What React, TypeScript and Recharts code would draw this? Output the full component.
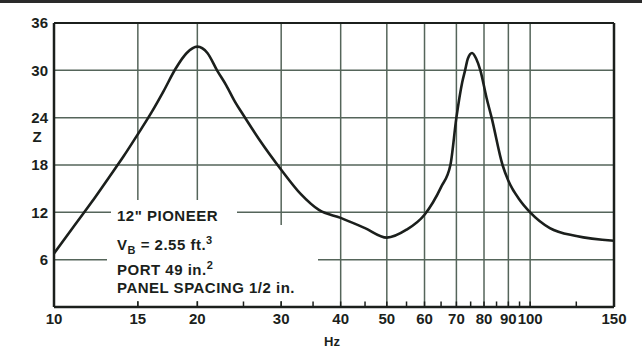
import React from 'react';
import { LineChart, Line, XAxis, YAxis, CartesianGrid, ReferenceLine, Label } from 'recharts';

const frequencies = [10, 11, 12, 13, 14, 15, 16, 17, 18, 19, 20, 21, 22, 23, 24, 25, 27, 30, 33, 36, 40, 45, 50, 55, 60, 65, 68, 70, 72, 73, 74, 75.5, 77, 78.6, 81, 83, 87.5, 90, 95, 100, 110, 125, 150];
const impedance = [6.8, 10.2, 13.3, 16.3, 19.1, 21.9, 24.6, 27.4, 30.2, 32.2, 33, 32.2, 30, 28.1, 26, 24.3, 21.2, 17.4, 14.3, 12.3, 11.3, 10, 8.8, 9.8, 11.7, 15.2, 18, 24, 28.5, 30, 31.5, 32.2, 31.5, 30, 26.5, 24, 18, 16, 13.6, 12, 10, 9, 8.4];
const xTicks = [10, 15, 20, 30, 40, 50, 60, 70, 80, 90, 100, 150];
const yTicks = [0, 6, 12, 18, 24, 30, 36];
const innerTicks = [15, 20, 25, 30, 35, 40, 45, 50, 55, 60, 65, 70, 75, 80, 85, 90, 95, 100, 125];

const data = frequencies.map((f, i) => ({ f, z: impedance[i] }));

const FONT = '"Liberation Sans", Arial, sans-serif';
const INK = '#1b1f1c';
const GRID = '#55655a';

const tickStyle = { fontFamily: FONT, fontSize: 15, fontWeight: 700, fill: INK };

const lineStyle: React.CSSProperties = {
  position: 'absolute',
  left: 117,
  fontFamily: FONT,
  fontSize: 15,
  fontWeight: 700,
  color: INK,
  letterSpacing: 0.5,
  lineHeight: '18px',
  whiteSpace: 'nowrap',
};

export default function App() {
  return (
    <div style={{ position: 'absolute', left: 0, top: 0, width: 642, height: 348, background: '#fff', overflow: 'hidden' }}>
      <div style={{ position: 'absolute', left: 0, top: 0, width: 642, height: 3, background: '#2a2a2a' }} />
      <LineChart width={642} height={348} data={data} margin={{ top: 23, right: 28, bottom: 0, left: 0 }}>
        <CartesianGrid stroke={GRID} strokeWidth={1.5} horizontalValues={yTicks} verticalValues={xTicks} />
        <XAxis
          dataKey="f"
          type="number"
          scale="log"
          domain={[10, 150]}
          ticks={xTicks}
          allowDataOverflow
          height={41}
          tickLine={false}
          tickSize={4}
          tickMargin={2}
          axisLine={{ stroke: INK, strokeWidth: 2.5 }}
          tick={tickStyle}
          interval={0}
        >
          <Label
            content={({ viewBox }: any) => (
              <text x={viewBox.x + viewBox.width / 2 - 2} y={viewBox.y + 39} textAnchor="middle" style={{ fontFamily: FONT, fontSize: 13, fontWeight: 700, fill: INK }}>
                Hz
              </text>
            )}
          />
        </XAxis>
        <YAxis
          type="number"
          domain={[0, 36]}
          ticks={[6, 12, 18, 24, 30, 36]}
          width={54}
          tickLine={false}
          tickSize={4}
          tickMargin={2}
          axisLine={{ stroke: INK, strokeWidth: 2.5 }}
          tick={tickStyle}
          interval={0}
        >
          <Label
            content={({ viewBox }: any) => (
              <text x={viewBox.x + 37} y={viewBox.y + 119} textAnchor="middle" style={{ fontFamily: FONT, fontSize: 15, fontWeight: 700, fill: INK }}>
                Z
              </text>
            )}
          />
        </YAxis>
        <ReferenceLine x={150} stroke={INK} strokeWidth={2.5} />
        <ReferenceLine y={36} stroke={INK} strokeWidth={2} />
        {innerTicks.map((t) => (
          <ReferenceLine key={t} segment={[{ x: t, y: 0 }, { x: t, y: 0.7 }]} stroke={INK} strokeWidth={1.5} />
        ))}
        <Line type="monotone" dataKey="z" stroke={INK} strokeWidth={2.6} dot={false} isAnimationActive={false} />
      </LineChart>
      <div style={{ position: 'absolute', left: 111, top: 200, width: 126, height: 26, background: '#fff' }} />
      <div style={{ position: 'absolute', left: 107, top: 225, width: 211, height: 76, background: '#fff' }} />
      <div style={{ ...lineStyle, top: 207 }}>12" PIONEER</div>
      <div style={{ ...lineStyle, top: 231 }}>
        V<sub style={{ fontSize: 11, verticalAlign: -4 }}>B</sub> = 2.55 ft.<sup style={{ fontSize: 11, verticalAlign: 6 }}>3</sup>
      </div>
      <div style={{ ...lineStyle, top: 256 }}>
        PORT 49 in.<sup style={{ fontSize: 11, verticalAlign: 6 }}>2</sup>
      </div>
      <div style={{ ...lineStyle, top: 279 }}>PANEL SPACING 1/2 in.</div>
    </div>
  );
}
